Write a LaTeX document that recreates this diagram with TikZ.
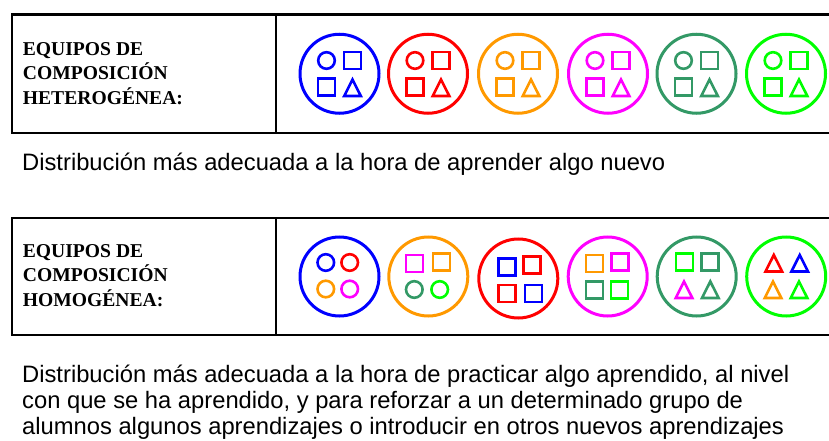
\documentclass[tikz,border=0pt]{standalone}
\usepackage{fontspec}
\setmainfont{Liberation Sans}
\newfontfamily\boxfont{Liberation Serif}
\usepackage{xcolor}
\usepackage{tikz}

\definecolor{tblue}{RGB}{0,0,255}
\definecolor{tred}{RGB}{255,0,0}
\definecolor{torange}{RGB}{255,153,0}
\definecolor{tmagenta}{RGB}{255,0,255}
\definecolor{tsea}{RGB}{51,153,102}
\definecolor{tgreen}{RGB}{0,255,0}

% one pupil of a team, drawn at (#2) in colour #1
\newcommand{\pcirc}[2]{\draw[pupil,#1,shift={(#2)}] (0,0) circle (8.3);}
\newcommand{\psq}[2]{\draw[pupil,#1,shift={(#2)}] (-8.5,-8.5) rectangle (8.5,8.5);}
\newcommand{\ptri}[2]{\draw[pupil,#1,shift={(#2)}] (-8.3,-9) -- (8.3,-9) -- (0,7.5) -- cycle;}

\begin{document}
\begin{tikzpicture}[x=1pt, y=1pt,
    frame/.style={line width=2.5pt, black},
    team/.style={line width=3pt},
    pupil/.style={line width=2.6pt},
    boxlabel/.style={anchor=north west, inner sep=0pt, align=left,
        font=\boxfont\bfseries\fontsize{19.6}{24.5}\selectfont},
    note/.style={anchor=north west, inner sep=0pt, align=left,
        font=\fontsize{23.75}{26.3}\selectfont}]
        \useasboundingbox (0,0) rectangle (829,-441);
        % heterogeneous teams
        \draw[frame] (829,-14.5) -- (12,-14.5) -- (12,-133) -- (829,-133);
        \draw[frame] (276,-14.5) -- (276,-133);
        \node[boxlabel] (hetlabel) at (22.7,-42)
        {EQUIPOS DE\\COMPOSICIÓN\\HETEROGÉNEA:};
        \foreach \c/\x in {tblue/339.5, tred/428, torange/518, tmagenta/608, 
            tsea/696.5, tgreen/786} {
            \draw[team,\c] (\x,-73.75) circle (39.5);
            \pcirc{\c}{\x-13,-60.5}
            \psq{\c}{\x+13,-60.5}
            \psq{\c}{\x-13,-87}
            \ptri{\c}{\x+13,-87}
        }
        \node[note] (hetnote) at (22,-153)
        {Distribución más adecuada a la hora de aprender algo nuevo};
        % homogeneous teams
        \draw[frame] (829,-218) -- (12,-218) -- (12,-335) -- (829,-335);
        \draw[frame] (276,-218) -- (276,-335);
        \node[boxlabel] (homlabel) at (22.7,-244)
        {EQUIPOS DE\\COMPOSICIÓN\\HOMOGÉNEA:};
        \draw[team,tblue] (339.5,-276.5) circle (39.5);
        \pcirc{tblue}{325.8,-262.5} \pcirc{tred}{349.7,-262.5}
        \pcirc{torange}{325.8,-289} \pcirc{tmagenta}{349.7,-289}
        \draw[team,torange] (428.3,-276.5) circle (39.5);
        \psq{tmagenta}{414.3,-263.3} \psq{torange}{441.3,-262}
        \pcirc{tsea}{414.3,-289.5} \pcirc{tgreen}{439.7,-289.5}
        \draw[team,tred] (518.3,-278.5) circle (39.5);
        \psq{tblue}{506.7,-266.7} \psq{tred}{531.7,-265}
        \psq{tred}{506.7,-293.3} \psq{tblue}{533.3,-293.3}
        \draw[team,tmagenta] (607.7,-276.5) circle (39.5);
        \psq{torange}{594.3,-263.3} \psq{tmagenta}{620,-261.7}
        \psq{tsea}{594.3,-290} \psq{tgreen}{619.3,-290}
        \draw[team,tsea] (696.7,-276.5) circle (39.5);
        \psq{tgreen}{684.3,-261.7} \psq{tsea}{710,-261.7}
        \ptri{tmagenta}{684,-289} \ptri{tsea}{710.3,-289}
        \draw[team,tgreen] (786.2,-276.5) circle (39.5);
        \ptri{tred}{773.8,-262.5} \ptri{tblue}{799.7,-262.5}
        \ptri{torange}{773,-289} \ptri{tgreen}{799,-289}
        \node[note] (homnote) at (22,-364.5)
        {Distribución más adecuada a la hora de practicar algo aprendido, al nivel\\
        con que se ha aprendido, y para reforzar a un determinado grupo de\\
        alumnos algunos aprendizajes o introducir en otros nuevos aprendizajes};
    \end{tikzpicture}
\end{document}
